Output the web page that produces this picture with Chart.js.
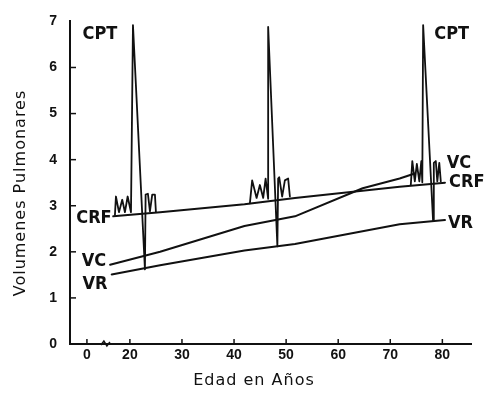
<!DOCTYPE html>
<html>
<head>
<meta charset="utf-8">
<script src="https://cdn.jsdelivr.net/npm/chart.js@4.4.0/dist/chart.umd.min.js"></script>
<style>
    html, body { margin: 0; padding: 0; background: #fff; }
</style>
</head>
<body>
<canvas id="lungChart" width="487" height="395"></canvas>
<script>
// axis ticks (the "0" tick sits left of the axis break)
const xTickValues = [11.75, 20, 30, 40, 50, 60, 70, 80];
const xTickLabels = ['0', '20', '30', '40', '50', '60', '70', '80'];
const yTickValues = [0, 1, 2, 3, 4, 5, 6, 7];

// capacidad residual funcional
const crfAges = [16.8, 25.8, 42, 51.7, 71.8, 80.5];
const crfValues = [2.77, 2.86, 3.03, 3.17, 3.41, 3.50];

// volumen de cierre
const vcAges = [16.2, 25.8, 42, 51.7, 64.7, 71.8, 74.7];
const vcValues = [1.72, 2.00, 2.56, 2.77, 3.38, 3.59, 3.70];

// volumen residual
const vrAges = [16.5, 25.8, 42, 51.7, 71.8, 80.5];
const vrValues = [1.51, 1.71, 2.03, 2.17, 2.60, 2.69];

// spirograms at ~20, ~47 and ~76 years
const spiro1Ages = [17.13, 17.32, 17.90, 18.53, 19.05, 19.57, 20.21, 20.59, 22.89, 23.02, 23.46, 23.85, 24.29, 24.81, 25.0];
const spiro1Values = [2.80, 3.20, 2.86, 3.13, 2.86, 3.20, 2.86, 6.92, 1.62, 3.24, 3.26, 2.88, 3.24, 3.24, 2.86];

const spiro2Ages = [43.04, 43.48, 44.33, 44.96, 45.6, 46.06, 46.55, 46.55, 48.32, 48.47, 48.67, 49.24, 49.76, 50.39, 50.72];
const spiro2Values = [3.05, 3.55, 3.17, 3.45, 3.17, 3.59, 3.15, 6.88, 2.12, 3.59, 3.62, 3.20, 3.55, 3.59, 3.20];

const spiro3Ages = [73.94, 74.23, 74.71, 75.10, 75.58, 75.96, 76.15, 76.31, 78.22, 78.36, 78.74, 79.03, 79.41, 79.70];
const spiro3Values = [3.45, 3.97, 3.53, 3.91, 3.53, 3.97, 3.51, 6.92, 2.67, 3.93, 3.97, 3.53, 3.93, 3.53];

// curve labels, in data coordinates
const labelTexts = ['CPT', 'CPT', 'CRF', 'VC', 'VR', 'VC', 'CRF', 'VR'];
const labelAges = [14.25, 81.8, 13.1, 13.1, 13.3, 83.2, 84.7, 83.5];
const labelValues = [6.73, 6.71, 2.73, 1.79, 1.30, 3.93, 3.51, 2.61];

const ink = '#111';

function toPoints(xs, ys) {
    return xs.map(function(x, i) { return { x: x, y: ys[i] }; });
}

function lineSet(label, xs, ys, width) {
    return {
        label: label,
        data: toPoints(xs, ys),
        showLine: true,
        borderColor: ink,
        borderWidth: width,
        borderJoinStyle: 'round',
        borderCapStyle: 'round',
        pointRadius: 0,
        tension: 0,
        fill: false
    };
}

// inward ticks, axis break, curve labels and axis titles
const decorations = {
    id: 'decorations',
    afterDraw: function(chart) {
        const ctx = chart.ctx;
        const xs = chart.scales.x;
        const ys = chart.scales.y;
        const area = chart.chartArea;
        ctx.save();
        ctx.strokeStyle = ink;
        ctx.lineWidth = 1.5;

        yTickValues.forEach(function(v) {
            if (v === 0 || v === 7) return;
            const py = ys.getPixelForValue(v);
            ctx.beginPath();
            ctx.moveTo(area.left, py);
            ctx.lineTo(area.left + 6, py);
            ctx.stroke();
        });
        xTickValues.forEach(function(v) {
            const px = xs.getPixelForValue(v);
            ctx.beginPath();
            ctx.moveTo(px, area.bottom);
            ctx.lineTo(px, area.bottom - 5);
            ctx.stroke();
        });

        // axis break
        const bx = xs.getPixelForValue(15.2);
        ctx.beginPath();
        ctx.moveTo(bx - 4, area.bottom + 1);
        ctx.lineTo(bx - 1, area.bottom - 3);
        ctx.lineTo(bx + 2, area.bottom + 2);
        ctx.lineTo(bx + 5, area.bottom - 2);
        ctx.stroke();

        ctx.fillStyle = ink;
        ctx.textAlign = 'center';
        ctx.textBaseline = 'middle';
        ctx.font = 'bold 18px "DejaVu Sans Condensed", "DejaVu Sans", sans-serif';
        labelTexts.forEach(function(t, i) {
            ctx.fillText(t, xs.getPixelForValue(labelAges[i]), ys.getPixelForValue(labelValues[i]));
        });

        ctx.font = '16px "DejaVu Sans", sans-serif';
        ctx.letterSpacing = '1px';
        ctx.fillText('Edad en Años', 254, 381);

        ctx.translate(21, 193);
        ctx.rotate(-Math.PI / 2);
        ctx.fillText('Volumenes Pulmonares', 0, 0);
        ctx.restore();
    }
};

const chart = new Chart(document.getElementById('lungChart'), {
    type: 'scatter',
    data: {
        datasets: [
            lineSet('CRF', crfAges, crfValues, 2),
            lineSet('VC', vcAges, vcValues, 2),
            lineSet('VR', vrAges, vrValues, 2),
            lineSet('Espirograma 20', spiro1Ages, spiro1Values, 1.8),
            lineSet('Espirograma 47', spiro2Ages, spiro2Values, 1.8),
            lineSet('Espirograma 76', spiro3Ages, spiro3Values, 1.8)
        ]
    },
    options: {
        responsive: false,
        animation: false,
        devicePixelRatio: 1,
        layout: {
            padding: { top: 11, right: 16, left: 0, bottom: 0 }
        },
        plugins: {
            legend: { display: false },
            tooltip: { enabled: false }
        },
        scales: {
            x: {
                type: 'linear',
                min: 8.5,
                max: 85.5,
                afterBuildTicks: function(scale) {
                    scale.ticks = xTickValues.map(function(v) { return { value: v }; });
                },
                afterFit: function(scale) { scale.height = 51; },
                grid: { drawOnChartArea: false, drawTicks: false },
                border: { color: ink, width: 2 },
                ticks: {
                    autoSkip: false,
                    maxRotation: 0,
                    padding: 3,
                    color: ink,
                    font: { family: 'Liberation Sans', size: 14, weight: 'bold' },
                    callback: function(value, index) { return xTickLabels[index]; }
                }
            },
            y: {
                min: 0,
                max: 7,
                afterBuildTicks: function(scale) {
                    scale.ticks = yTickValues.map(function(v) { return { value: v }; });
                },
                afterFit: function(scale) { scale.width = 70; },
                grid: { drawOnChartArea: false, drawTicks: false },
                border: { color: ink, width: 2 },
                ticks: {
                    padding: 13,
                    color: ink,
                    font: { family: 'Liberation Sans', size: 14, weight: 'bold' }
                }
            }
        }
    },
    plugins: [decorations]
});
</script>
</body>
</html>
